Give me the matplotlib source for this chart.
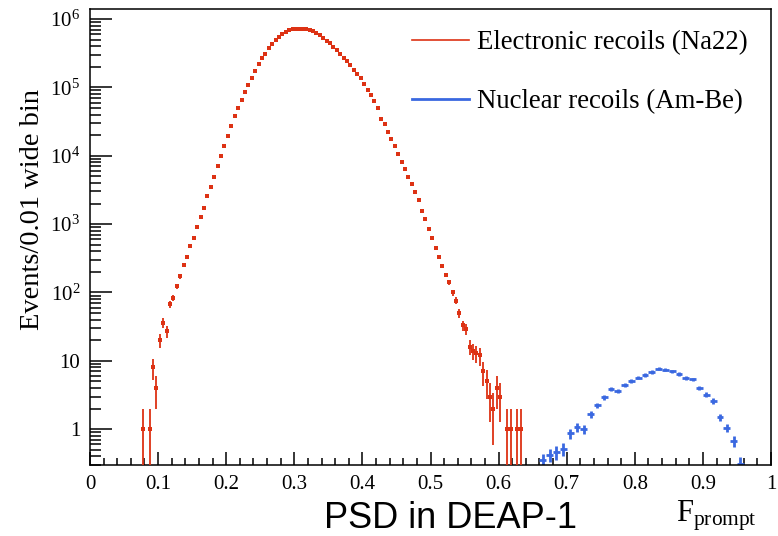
#!/usr/bin/env python3
"""PSD in DEAP-1: Fprompt distributions for electronic (Na22) and nuclear (Am-Be) recoils."""

import numpy as np
import matplotlib

matplotlib.use("Agg")
import matplotlib.pyplot as plt
from matplotlib.lines import Line2D
from matplotlib.ticker import FixedLocator, FixedFormatter, MultipleLocator

plt.rcParams["font.family"] = ["Liberation Serif", "DejaVu Serif"]
plt.rcParams["mathtext.fontset"] = "custom"
plt.rcParams["mathtext.rm"] = "Liberation Serif"
plt.rcParams["mathtext.it"] = "Liberation Serif:italic"

# Electronic recoils (Na22): counts per 0.005 bin, first bin centre 0.0775
er_first_center = 0.0775
er_bin = 0.005
er_counts = [
    1, 0, 1, 8, 4, 20, 36, 27, 68, 84,
    124, 173, 254, 328, 486, 630, 920, 1260, 1720, 2540,
    3530, 4950, 7050, 10000, 13900, 19600, 27000, 37500, 49400, 65000,
    85000, 110000, 138000, 173000, 217000, 265000, 310000, 375000, 430000, 490000,
    546000, 600000, 646000, 680000, 710000, 720000, 725000, 725000, 715000, 695000,
    670000, 630000, 590000, 530000, 480000, 440000, 390000, 347000, 310000, 270000,
    240000, 215000, 180000, 158000, 135000, 112000, 93000, 78000, 63000, 50000,
    35000, 29000, 22400, 17800, 13800, 10700, 8100, 6300, 4900, 3900,
    2950, 2240, 1580, 1170, 860, 630, 450, 335, 245, 182,
    141, 100, 76, 50, 33, 29, 16, 14, 13, 12,
    7, 5, 3, 2, 4, 3, 0, 1, 1, 0,
    1, 1,
]

# Nuclear recoils (Am-Be): scaled counts per 0.01 bin, first bin centre 0.665
nr_first_center = 0.665
nr_bin = 0.01
nr_values = [
    0.35, 0.42, 0.46, 0.51, 0.87, 1.07, 1.0, 1.66, 2.24, 2.96,
    3.9, 3.63, 4.5, 5.1, 5.7, 6.2, 6.86, 7.7, 7.4, 7.05,
    6.4, 5.6, 5.35, 4.06, 3.22, 2.6, 1.5, 1.05, 0.67, 0.31,
]
nr_errors = [
    0.08, 0.09, 0.10, 0.11, 0.15, 0.16, 0.15, 0.19, 0.22, 0.25,
    0.29, 0.28, 0.31, 0.33, 0.35, 0.36, 0.38, 0.40, 0.39, 0.38,
    0.37, 0.34, 0.34, 0.29, 0.26, 0.24, 0.18, 0.15, 0.12, 0.08,
]

y_ticks = [1, 10, 1e2, 1e3, 1e4, 1e5, 1e6]
y_tick_labels = ["1", "10", r"$10^{2}$", r"$10^{3}$", r"$10^{4}$", r"$10^{5}$", r"$10^{6}$"]
x_ticks = [0, 0.1, 0.2, 0.3, 0.4, 0.5, 0.6, 0.7, 0.8, 0.9, 1]
x_tick_labels = ["0", "0.1", "0.2", "0.3", "0.4", "0.5", "0.6", "0.7", "0.8", "0.9", "1"]

RED = "#dd3214"
BLUE = "#3a68e0"
YMIN, YMAX = 0.3, 1.4e6

er_counts = np.asarray(er_counts, dtype=float)
er_x = er_first_center + er_bin * np.arange(len(er_counts))
keep = er_counts > 0
er_x, er_n = er_x[keep], er_counts[keep]
er_up = np.sqrt(er_n)
er_lo = er_n - np.maximum(er_n - np.sqrt(er_n), 0.05)

nr_values = np.asarray(nr_values)
nr_x = nr_first_center + nr_bin * np.arange(len(nr_values))

fig = plt.figure(figsize=(7.78, 5.36), dpi=100)
ax = fig.add_axes([90 / 778, 71 / 536, 681 / 778, 456 / 536])

ax.errorbar(nr_x, nr_values, yerr=nr_errors, xerr=nr_bin / 2, fmt="none",
            ecolor=BLUE, elinewidth=2.0, capsize=0, zorder=2)
ax.errorbar(er_x, er_n, yerr=[er_lo, er_up], xerr=er_bin / 2, fmt="s",
            color=RED, ecolor=RED, ms=2.6, mew=0, elinewidth=1.3,
            capsize=2.0, capthick=1.3, zorder=3)

ax.set_yscale("log")
ax.set_xlim(0, 1)
ax.set_ylim(YMIN, YMAX)

ax.yaxis.set_major_locator(FixedLocator(y_ticks))
ax.yaxis.set_major_formatter(FixedFormatter(y_tick_labels))
ax.xaxis.set_major_locator(FixedLocator(x_ticks))
ax.xaxis.set_major_formatter(FixedFormatter(x_tick_labels))
ax.xaxis.set_minor_locator(MultipleLocator(0.02))

ax.tick_params(axis="x", which="both", direction="in", top=False, labelsize=15, pad=7, width=1.1)
ax.tick_params(axis="x", which="major", length=9.5)
ax.tick_params(axis="x", which="minor", length=5)
ax.tick_params(axis="y", which="both", direction="in", right=False, labelsize=15, pad=7, width=1.1)
ax.tick_params(axis="y", which="major", length=16)
ax.tick_params(axis="y", which="minor", length=8)
for sp in ax.spines.values():
    sp.set_linewidth(1.1)

ax.set_ylabel("Events/0.01 wide bin", fontsize=20.5)
ax.yaxis.set_label_coords(-0.066, 0.56)

handles = [Line2D([], [], color=RED, lw=1.2), Line2D([], [], color=BLUE, lw=2.0)]
labels = ["Electronic recoils (Na22)", "Nuclear recoils (Am-Be)"]
fig.legend(handles, labels, loc="upper left", bbox_to_anchor=(412 / 778, 1 - 30 / 536),
           frameon=False, fontsize=19.3, handlelength=2.13, handletextpad=0.3,
           labelspacing=1.28, borderpad=0, borderaxespad=0)

fig.text(757 / 778, 1 - 516 / 536, r"$\mathrm{F}_{\mathrm{prompt}}$", fontsize=22,
         ha="right", va="center")
fig.text(450 / 778, 1 - 518 / 536, "PSD in DEAP-1", fontsize=26,
         family=["Liberation Sans", "DejaVu Sans"], ha="center", va="center")

fig.savefig("out.png", dpi=100)
plt.close(fig)
